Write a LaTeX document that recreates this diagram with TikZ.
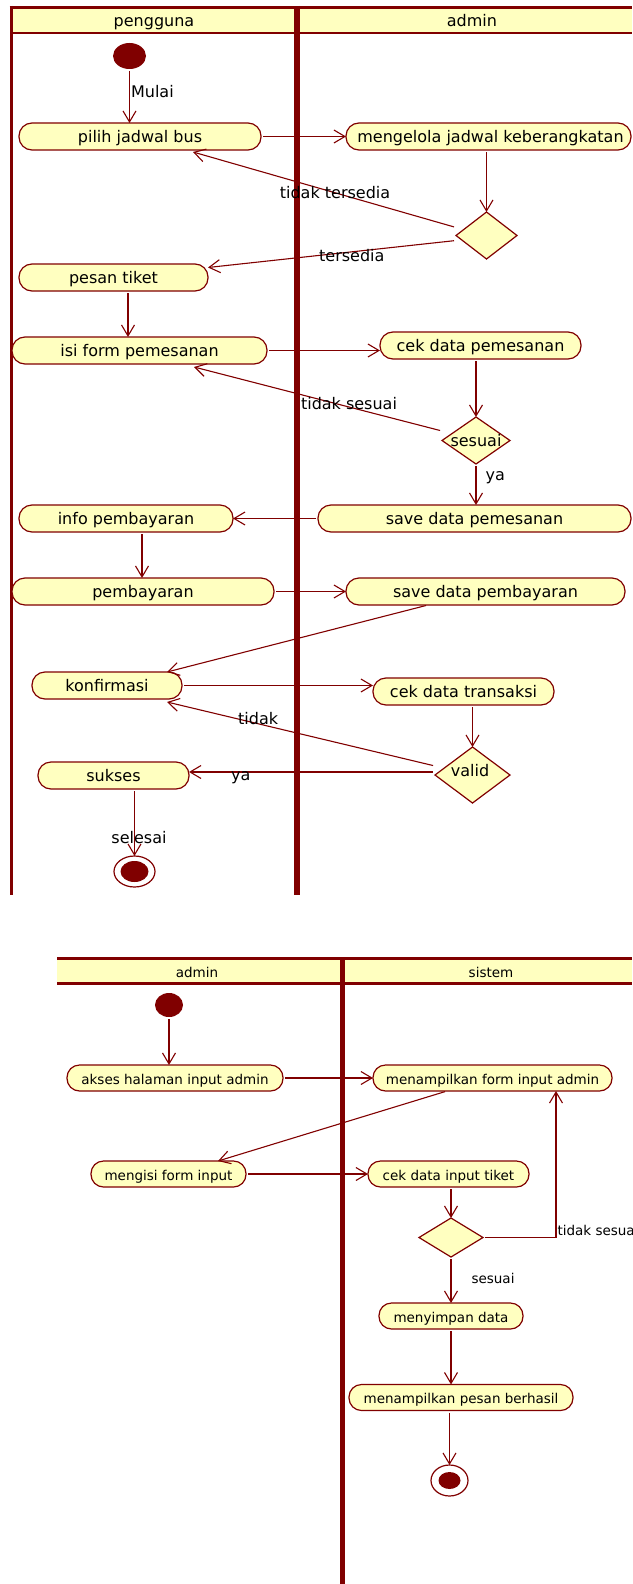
\documentclass[tikz,border=0pt]{standalone}
\usepackage{fontspec}
\setmainfont{DejaVu Sans}
\usetikzlibrary{shapes.geometric,arrows.meta,calc}
\definecolor{dred}{RGB}{128,0,0}
\definecolor{ylw}{RGB}{255,255,192}
\newcommand\fA{\fontsize{16}{18}\selectfont}
\newcommand\fB{\fontsize{13.5}{16}\selectfont}
\begin{document}
\begin{tikzpicture}[x=1pt,y=-1pt,
  act/.style={draw=dred, fill=ylw, line width=1.2pt, rounded corners=13pt, minimum height=27pt, inner sep=0pt, outer sep=0pt, font=\fA, text height=14pt, text depth=2pt},
  actB/.style={act, minimum height=26pt, rounded corners=12.5pt, font=\fB, text height=12.5pt, text depth=0.5pt},
  dia/.style={draw=dred, fill=ylw, line width=1.2pt, diamond, inner sep=0pt, outer sep=0pt},
  startn/.style={ellipse, fill=dred, inner sep=0pt, outer sep=0pt},
  endo/.style={ellipse, draw=dred, line width=1.2pt, fill=white, inner sep=0pt, outer sep=0pt},
  flow/.style={draw=dred, line width=1.1pt, shorten <=2pt, -{Straight Barb[length=11pt,width=13pt,line width=1.1pt]}},
  lbl/.style={font=\fA, text=black, inner sep=1pt},
  lblB/.style={font=\fB, text=black, inner sep=1pt},
  lane/.style={draw=dred},
]
\useasboundingbox (0,0) rectangle (632,1584);

% ---------- swimlanes, diagram 1
\fill[ylw] (11,7) rectangle (632,33);
\draw[lane, line width=3pt] (9.5,7.5) -- (632,7.5);
\draw[lane, line width=2.7pt] (11,33) -- (632,33);
\draw[lane, line width=3pt] (11,6) -- (11,895);
\draw[lane, line width=5.5pt] (297,6) -- (297,895);
\node[lbl, anchor=base] (h1) at (154,26.5) {pengguna};
\node[lbl, anchor=base] (h2) at (472,26.5) {admin};

% ---------- nodes, diagram 1
\node[startn, minimum width=33pt, minimum height=26pt] (start1) at (129.5,56) {};
\node[act, minimum width=242pt] (pilih) at (140,136.5) {pilih jadwal bus};
\node[act, minimum width=285pt] (meng) at (488.5,136.5) {\hspace{4pt}mengelola jadwal keberangkatan};
\node[dia, minimum width=61pt, minimum height=47pt] (d1) at (486.5,235.5) {};
\node[act, minimum width=189pt] (pesan) at (113.5,277.5) {pesan tiket};
\node[act, minimum width=255pt] (isi) at (139.5,350.5) {isi form pemesanan};
\node[act, minimum width=201pt] (cek1) at (480.5,345.5) {cek data pemesanan};
\node[dia, minimum width=68pt, minimum height=47pt, label={[lbl]center:sesuai}] (d2) at (476,440.5) {};
\node[act, minimum width=313pt] (save1) at (474.5,518.5) {save data pemesanan};
\node[act, minimum width=214pt] (info) at (126,518.5) {info pembayaran};
\node[act, minimum width=262pt] (pemb) at (143,591.5) {pembayaran};
\node[act, minimum width=279pt] (save2) at (485.5,591.5) {save data pembayaran};
\node[act, minimum width=150pt] (konf) at (107,685.5) {konfirmasi};
\node[act, minimum width=181pt] (cek3) at (463.5,691.5) {cek data transaksi};
\node[dia, minimum width=75pt, minimum height=56pt, label={[lbl, xshift=-2.5pt, yshift=4pt]center:valid}] (d3) at (472.5,775) {};
\node[act, minimum width=151pt] (sukses) at (113.5,775.5) {sukses};
\node[endo, minimum width=41pt, minimum height=31pt] (end1) at (134.5,871.5) {};
\fill[dred] (end1.center) ellipse [x radius=14, y radius=10.5];

% ---------- edges, diagram 1
\draw[flow] (start1) -- (start1.south |- pilih.north) node[lbl, pos=0.42, right] {Mulai};
\draw[flow] (pilih) -- (pilih -| meng.west);
\draw[flow] (d1.north |- meng.south) -- (d1.north);
\draw[flow] ([yshift=8pt]d1.west) -- ([xshift=53pt,yshift=-2pt]pilih.south) node[lbl, pos=0.46] {tidak tersedia};
\draw[flow] ([yshift=-5pt]d1.west) -- ([yshift=10pt]pesan.east) node[lbl, pos=0.42, yshift=-4pt] {tersedia};
\draw[flow] ([xshift=14.5pt]pesan.south) -- ([xshift=14.5pt]pesan.south |- isi.north);
\draw[flow] (isi) -- (isi -| cek1.west);
\draw[flow] (d2.north |- cek1.south) -- (d2.north);
\draw[flow] ([yshift=9.5pt]d2.west) -- ([xshift=54.5pt,yshift=-3pt]isi.south) node[lbl, pos=0.375, yshift=3pt] {tidak sesuai};
\draw[flow] (d2.south) -- (d2.south |- save1.north) node[lbl, pos=0.34, right, xshift=8pt] {ya};
\draw[flow] (save1) -- (save1 -| info.east);
\draw[flow] ([xshift=16pt]info.south) -- ([xshift=16pt]info.south |- pemb.north);
\draw[flow] (pemb) -- (pemb -| save2.west);
\draw[flow] ([xshift=-57.5pt]save2.south) -- ([xshift=60pt]konf.north);
\draw[flow] (konf) -- (konf -| cek3.west);
\draw[flow] (d3.north |- cek3.south) -- (d3.north);
\draw[flow] ([yshift=9pt]d3.west) -- ([xshift=60pt,yshift=-3pt]konf.south) node[lbl, pos=0.66, yshift=5pt] {tidak};
\draw[flow] ([yshift=3pt]d3.west) -- ([yshift=3pt]d3.west -| sukses.east) node[lbl, pos=0.79, yshift=-6pt] {ya};
\draw[flow] (end1.north |- sukses.south) -- (end1.north) node[lbl, pos=0.72, xshift=4.5pt] {selesai};

% ---------- swimlanes, diagram 2
\fill[ylw] (57,958.5) rectangle (632,983.3);
\draw[lane, line width=3pt] (57,958.5) -- (632,958.5);
\draw[lane, line width=2.7pt] (57,983.3) -- (632,983.3);
\draw[lane, line width=5pt] (342.5,957) -- (342.5,1584);
\node[lblB, anchor=base] (h3) at (197,977) {admin};
\node[lblB, anchor=base] (h4) at (491,977) {sistem};

% ---------- nodes, diagram 2
\node[startn, minimum width=28pt, minimum height=24pt] (start2) at (169,1005) {};
\node[actB, minimum width=216pt] (akses) at (175,1078) {akses halaman input admin};
\node[actB, minimum width=239pt] (menamp) at (492.5,1078) {menampilkan form input admin};
\node[actB, minimum width=155pt] (mengisi) at (168.5,1174) {mengisi form input};
\node[actB, minimum width=161pt] (cek4) at (448.5,1174) {cek data input tiket};
\node[dia, minimum width=64pt, minimum height=39pt] (d4) at (451,1237.5) {};
\node[actB, minimum width=144pt] (menyimpan) at (451,1316) {menyimpan data};
\node[actB, minimum width=224pt] (berhasil) at (461,1397.5) {menampilkan pesan berhasil};
\node[endo, minimum width=37pt, minimum height=31pt] (end2) at (449.5,1480.5) {};
\fill[dred] (end2.center) ellipse [x radius=11, y radius=8.5];

% ---------- edges, diagram 2
\draw[flow] (start2) -- (start2.south |- akses.north);
\draw[flow] (akses) -- (akses -| menamp.west);
\draw[flow] ([xshift=-45.5pt]menamp.south) -- ([xshift=49.5pt]mengisi.north);
\draw[flow] (mengisi) -- (mengisi -| cek4.west);
\draw[flow] (d4.north |- cek4.south) -- (d4.north);
\draw[flow] (d4.east) -| ([xshift=63.5pt]menamp.south) node[lblB, pos=0.5, anchor=base west, yshift=2.5pt] {tidak sesuai};
\draw[flow] (d4) -- (d4.south |- menyimpan.north) node[lblB, pos=0.46, right, xshift=19pt] {sesuai};
\draw[flow] (menyimpan) -- (menyimpan.south |- berhasil.north);
\draw[flow] (end2.north |- berhasil.south) -- (end2.north);
\end{tikzpicture}
\end{document}
